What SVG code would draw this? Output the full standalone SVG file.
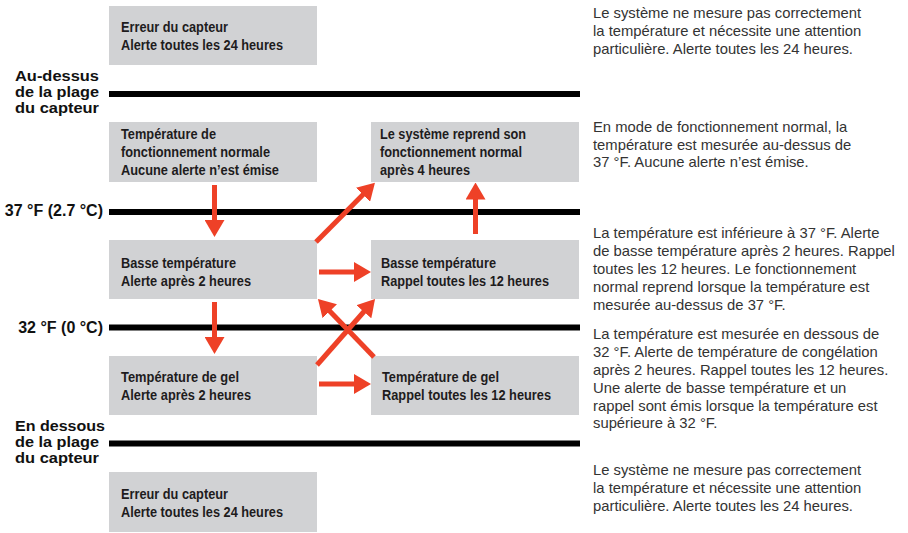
<svg xmlns="http://www.w3.org/2000/svg" width="908" height="533" viewBox="0 0 908 533">
<style>
.box{fill:#d1d2d4}
.bt{font-family:"Liberation Sans",Arial,sans-serif;font-weight:bold;font-size:14px;fill:#1e1c1d}
.lbl{font-family:"Liberation Sans",Arial,sans-serif;font-weight:bold;font-size:16px;fill:#111}
.lbs{font-family:"Liberation Sans",Arial,sans-serif;font-weight:bold;font-size:14.2px;fill:#111}
.desc{font-family:"Liberation Sans",Arial,sans-serif;font-size:14.8px;fill:#333}
.band{stroke:#000;stroke-width:6}
.arr{stroke:#ee4127;stroke-width:5;fill:none;marker-end:url(#ah)}
</style>
<defs>
<marker id="ah" markerUnits="userSpaceOnUse" markerWidth="17" markerHeight="20" refX="3" refY="10" orient="auto">
<path d="M0,0 L17,10 L0,20 z" fill="#ee4127"/>
</marker>
</defs>
<rect width="908" height="533" fill="#fff"/>
<g id="bands">
<line class="band" x1="109" y1="94" x2="580" y2="94"/>
<line class="band" x1="109" y1="212" x2="580" y2="212"/>
<line class="band" x1="109" y1="327.5" x2="580" y2="327.5"/>
<line class="band" x1="109" y1="443.5" x2="580" y2="443.5"/>
</g>
<g id="labels">
<text class="lbs" x="15" y="80.5" textLength="84" lengthAdjust="spacingAndGlyphs">Au-dessus</text>
<text class="lbs" x="15" y="96.5" textLength="84" lengthAdjust="spacingAndGlyphs">de la plage</text>
<text class="lbs" x="15" y="112.5" textLength="84" lengthAdjust="spacingAndGlyphs">du capteur</text>
<text class="lbl" x="103" y="216" text-anchor="end">37 °F (2.7 °C)</text>
<text class="lbl" x="103" y="332.5" text-anchor="end">32 °F (0 °C)</text>
<text class="lbs" x="15" y="431" textLength="90" lengthAdjust="spacingAndGlyphs">En dessous</text>
<text class="lbs" x="15" y="447" textLength="84" lengthAdjust="spacingAndGlyphs">de la plage</text>
<text class="lbs" x="15" y="463" textLength="84" lengthAdjust="spacingAndGlyphs">du capteur</text>
</g>
<g id="node-erreur-haut">
<rect class="box" x="109" y="6" width="208" height="59"/>
<text class="bt" x="121" y="32" textLength="107" lengthAdjust="spacingAndGlyphs">Erreur du capteur</text>
<text class="bt" x="121" y="50" textLength="162" lengthAdjust="spacingAndGlyphs">Alerte toutes les 24 heures</text>
</g>
<g id="node-normale">
<rect class="box" x="109" y="122" width="208" height="60"/>
<text class="bt" x="121" y="139" textLength="95" lengthAdjust="spacingAndGlyphs">Température de</text>
<text class="bt" x="121" y="157" textLength="149" lengthAdjust="spacingAndGlyphs">fonctionnement normale</text>
<text class="bt" x="121" y="175" textLength="158" lengthAdjust="spacingAndGlyphs">Aucune alerte n’est émise</text>
</g>
<g id="node-reprend">
<rect class="box" x="371" y="122" width="208" height="60"/>
<text class="bt" x="380" y="139" textLength="146" lengthAdjust="spacingAndGlyphs">Le système reprend son</text>
<text class="bt" x="380" y="157" textLength="142" lengthAdjust="spacingAndGlyphs">fonctionnement normal</text>
<text class="bt" x="380" y="175" textLength="90" lengthAdjust="spacingAndGlyphs">après 4 heures</text>
</g>
<g id="node-basse">
<rect class="box" x="109" y="240" width="208" height="59"/>
<text class="bt" x="121" y="268" textLength="115" lengthAdjust="spacingAndGlyphs">Basse température</text>
<text class="bt" x="121" y="286" textLength="130" lengthAdjust="spacingAndGlyphs">Alerte après 2 heures</text>
</g>
<g id="node-basse-rappel">
<rect class="box" x="371" y="240" width="208" height="59"/>
<text class="bt" x="381" y="268" textLength="115" lengthAdjust="spacingAndGlyphs">Basse température</text>
<text class="bt" x="381" y="286" textLength="168" lengthAdjust="spacingAndGlyphs">Rappel toutes les 12 heures</text>
</g>
<g id="node-gel">
<rect class="box" x="109" y="356" width="208" height="59"/>
<text class="bt" x="121" y="382" textLength="118" lengthAdjust="spacingAndGlyphs">Température de gel</text>
<text class="bt" x="121" y="400" textLength="130" lengthAdjust="spacingAndGlyphs">Alerte après 2 heures</text>
</g>
<g id="node-gel-rappel">
<rect class="box" x="371" y="356" width="208" height="59"/>
<text class="bt" x="382" y="382" textLength="117" lengthAdjust="spacingAndGlyphs">Température de gel</text>
<text class="bt" x="382" y="400" textLength="169" lengthAdjust="spacingAndGlyphs">Rappel toutes les 12 heures</text>
</g>
<g id="node-erreur-bas">
<rect class="box" x="109" y="472" width="208" height="60"/>
<text class="bt" x="121" y="499" textLength="107" lengthAdjust="spacingAndGlyphs">Erreur du capteur</text>
<text class="bt" x="121" y="517" textLength="162" lengthAdjust="spacingAndGlyphs">Alerte toutes les 24 heures</text>
</g>
<g id="connectors">
<line class="arr" x1="214.5" y1="185" x2="214.5" y2="223"/>
<line class="arr" x1="214.5" y1="302" x2="214.5" y2="340"/>
<line class="arr" x1="316" y1="242" x2="365.1" y2="192.6"/>
<line class="arr" x1="475.5" y1="234" x2="475.5" y2="196.5"/>
<line class="arr" x1="319" y1="272" x2="357" y2="272"/>
<line class="arr" x1="319" y1="384" x2="357" y2="384"/>
<line class="arr" x1="317" y1="365" x2="365.8" y2="309.5"/>
<line class="arr" x1="374" y1="357" x2="327.7" y2="309.1"/>
</g>
<g id="descriptions">
<text class="desc" x="593" y="18.3">Le système ne mesure pas correctement</text>
<text class="desc" x="593" y="36.1">la température et nécessite une attention</text>
<text class="desc" x="593" y="53.9">particulière. Alerte toutes les 24 heures.</text>
<text class="desc" x="593" y="131.7">En mode de fonctionnement normal, la</text>
<text class="desc" x="593" y="149.5">température est mesurée au-dessus de</text>
<text class="desc" x="593" y="167.3">37 °F. Aucune alerte n’est émise.</text>
<text class="desc" x="593" y="238.3">La température est inférieure à 37 °F. Alerte</text>
<text class="desc" x="593" y="256.1">de basse température après 2 heures. Rappel</text>
<text class="desc" x="593" y="273.9">toutes les 12 heures. Le fonctionnement</text>
<text class="desc" x="593" y="291.7">normal reprend lorsque la température est</text>
<text class="desc" x="593" y="309.5">mesurée au-dessus de 37 °F.</text>
<text class="desc" x="593" y="339.3">La température est mesurée en dessous de</text>
<text class="desc" x="593" y="357.1">32 °F. Alerte de température de congélation</text>
<text class="desc" x="593" y="374.9">après 2 heures. Rappel toutes les 12 heures.</text>
<text class="desc" x="593" y="392.7">Une alerte de basse température et un</text>
<text class="desc" x="593" y="410.5">rappel sont émis lorsque la température est</text>
<text class="desc" x="593" y="428.3">supérieure à 32 °F.</text>
<text class="desc" x="593" y="475">Le système ne mesure pas correctement</text>
<text class="desc" x="593" y="492.8">la température et nécessite une attention</text>
<text class="desc" x="593" y="510.6">particulière. Alerte toutes les 24 heures.</text>
</g>
</svg>
